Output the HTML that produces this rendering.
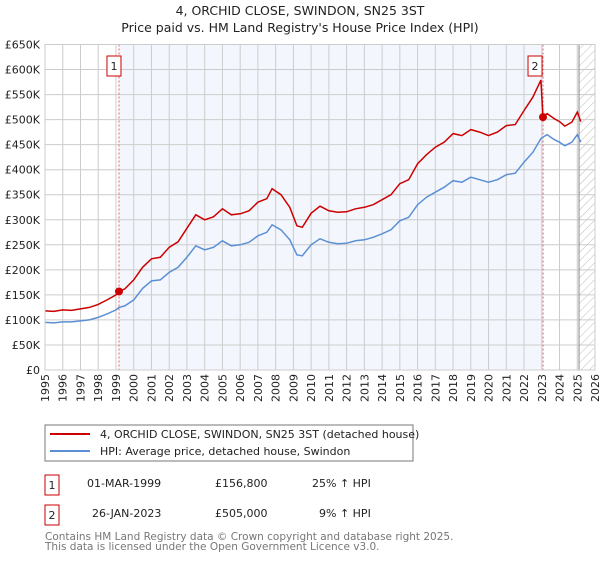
<!DOCTYPE html>
<html><head><meta charset="utf-8"><style>
body{margin:0;background:#fff;font-family:"Liberation Sans","DejaVu Sans",sans-serif}
svg text{font-family:"DejaVu Sans","Liberation Sans",sans-serif}
</style></head><body>
<svg id="c" width="600" height="560" xmlns="http://www.w3.org/2000/svg">
<defs><pattern id="hatch" width="6" height="6" patternUnits="userSpaceOnUse" patternTransform="rotate(45)"><line x1="0" y1="0" x2="0" y2="6" stroke="#bbb" stroke-width="1"/></pattern></defs>
<text x="300" y="15" text-anchor="middle" font-size="12.5" fill="#222">4, ORCHID CLOSE, SWINDON, SN25 3ST</text>
<text x="300" y="32" text-anchor="middle" font-size="12.5" fill="#222">Price paid vs. HM Land Registry's House Price Index (HPI)</text>
<g id="plot"></g>
<rect x="45" y="425" width="368" height="36" fill="#fff" stroke="#777"/>
<line x1="50" y1="434" x2="90" y2="434" stroke="#cc0000" stroke-width="2"/>
<text x="100" y="438" font-size="11" fill="#222">4, ORCHID CLOSE, SWINDON, SN25 3ST (detached house)</text>
<line x1="50" y1="451" x2="90" y2="451" stroke="#5b8fd4" stroke-width="2"/>
<text x="100" y="455" font-size="11" fill="#222">HPI: Average price, detached house, Swindon</text>
<rect x="45" y="475" width="14" height="20" fill="#fff" stroke="#cc0000"/>
<text x="52" y="489" text-anchor="middle" font-size="11" fill="#222">1</text>
<text x="87" y="487" font-size="11" fill="#222">01-MAR-1999</text>
<text x="215" y="487" font-size="11" fill="#222">£156,800</text>
<text x="312" y="487" font-size="11" fill="#222">25% ↑ HPI</text>
<rect x="45" y="505" width="14" height="20" fill="#fff" stroke="#cc0000"/>
<text x="52" y="519" text-anchor="middle" font-size="11" fill="#222">2</text>
<text x="92" y="517" font-size="11" fill="#222">26-JAN-2023</text>
<text x="215" y="517" font-size="11" fill="#222">£505,000</text>
<text x="319" y="517" font-size="11" fill="#222">9% ↑ HPI</text>
<text x="45" y="540" font-size="10.5" fill="#777">Contains HM Land Registry data © Crown copyright and database right 2025.</text>
<text x="45" y="550" font-size="10.5" fill="#777">This data is licensed under the Open Government Licence v3.0.</text>
</svg>
<script>
const years=[1995,1995.5,1996,1996.5,1997,1997.5,1998,1998.5,1999,1999.17,1999.5,2000,2000.5,2001,2001.5,2002,2002.5,2003,2003.5,2004,2004.5,2005,2005.5,2006,2006.5,2007,2007.5,2007.8,2008.3,2008.8,2009.2,2009.5,2010,2010.5,2011,2011.5,2012,2012.5,2013,2013.5,2014,2014.5,2015,2015.5,2016,2016.5,2017,2017.5,2018,2018.5,2019,2019.5,2020,2020.5,2021,2021.5,2022,2022.5,2022.95,2023.07,2023.3,2023.7,2024,2024.3,2024.7,2025,2025.2];
const hpi=[95,94,96,96,98,100,105,112,120,125,128,140,163,178,180,195,205,225,248,240,245,258,248,250,255,268,275,290,280,260,230,228,250,262,255,252,253,258,260,265,272,280,298,305,330,345,355,365,378,375,385,380,375,380,390,393,415,435,462,465,470,460,455,448,455,470,455];
const prop=[118,117,120,119,122,125,131,140,150,156.8,162,180,205,222,225,245,256,283,310,300,306,322,310,312,318,335,342,362,350,325,288,285,313,327,318,315,316,322,325,330,340,350,372,380,412,430,445,455,472,468,480,475,468,475,488,490,518,545,579,505,512,502,496,487,495,515,496];
const saleYears=[1999.17,2023.07];
const salePrices=[156.8,505];
const yTicks=[0,50,100,150,200,250,300,350,400,450,500,550,600,650];
const xTicks=[1995,1996,1997,1998,1999,2000,2001,2002,2003,2004,2005,2006,2007,2008,2009,2010,2011,2012,2013,2014,2015,2016,2017,2018,2019,2020,2021,2022,2023,2024,2025,2026];
const X0=45,X1=595,Y0=370,Y1=44.5;
const x=v=>X0+(v-1995)/31*(X1-X0);
const y=v=>Y0-v/650*(Y0-Y1);
const g=document.getElementById('plot');
const NS='http://www.w3.org/2000/svg';
function mk(t,a){const e=document.createElementNS(NS,t);for(const k in a)e.setAttribute(k,a[k]);g.appendChild(e);return e;}
let e;
e=mk('rect',{x:x(saleYears[0]),y:Y1,width:x(saleYears[1])-x(saleYears[0]),height:Y0-Y1,fill:'#eef3fc',opacity:0.7});


e=mk('rect',{x:x(2025.1),y:Y1,width:X1-x(2025.1),height:Y0-Y1,fill:'url(#hatch)'});


yTicks.forEach(t=>{
 e=mk('line',{x1:X0,x2:X1,y1:y(t),y2:y(t),stroke:'#ccc','stroke-width':1});
 
 
 e=mk('text',{x:40,y:y(t)+4,'text-anchor':'end','font-size':11,fill:'#222'});
 e.textContent=t===0?'£0':'£'+t+'K';
 
 
});
xTicks.forEach(t=>{
 e=mk('line',{x1:x(t),x2:x(t),y1:Y1,y2:Y0,stroke:'#ccc','stroke-width':1});
 
 
 e=mk('text',{x:0,y:0,'text-anchor':'end','font-size':11,fill:'#222',transform:`translate(${x(t)+4},374) rotate(-90)`});
 e.textContent=t;
 
 
});
e=mk('line',{x1:x(2025.1),x2:x(2025.1),y1:Y1,y2:Y0,stroke:'#888','stroke-width':1});


saleYears.forEach((s,i)=>{
 e=mk('line',{x1:x(s),x2:x(s),y1:Y1,y2:Y0,stroke:'#e06666','stroke-width':1,'stroke-dasharray':'2,2'});
 
 
});
const pts=a=>a.map((v,i)=>x(years[i]).toFixed(1)+','+y(v).toFixed(1)).join(' ');
e=mk('polyline',{points:pts(hpi),fill:'none',stroke:'#5b8fd4','stroke-width':1.5});


e=mk('polyline',{points:pts(prop),fill:'none',stroke:'#cc0000','stroke-width':1.5});


saleYears.forEach((s,i)=>{
 e=mk('circle',{cx:x(s),cy:y(salePrices[i]),r:4,fill:'#cc0000'});
 
 
 e=mk('rect',{x:x(s)-12-(i?3:0)+ (i?0:0),y:56,width:14,height:20,fill:'#fff',stroke:'#cc0000'});
 
 
 e=mk('text',{x:x(s)-5-(i?3:0),y:70,'text-anchor':'middle','font-size':11,fill:'#222'});
 e.textContent=String(i+1);
 
 
});
e=mk('rect',{x:X0,y:Y1,width:X1-X0,height:Y0-Y1,fill:'none',stroke:'#ccc'});


</script>
</body></html>
